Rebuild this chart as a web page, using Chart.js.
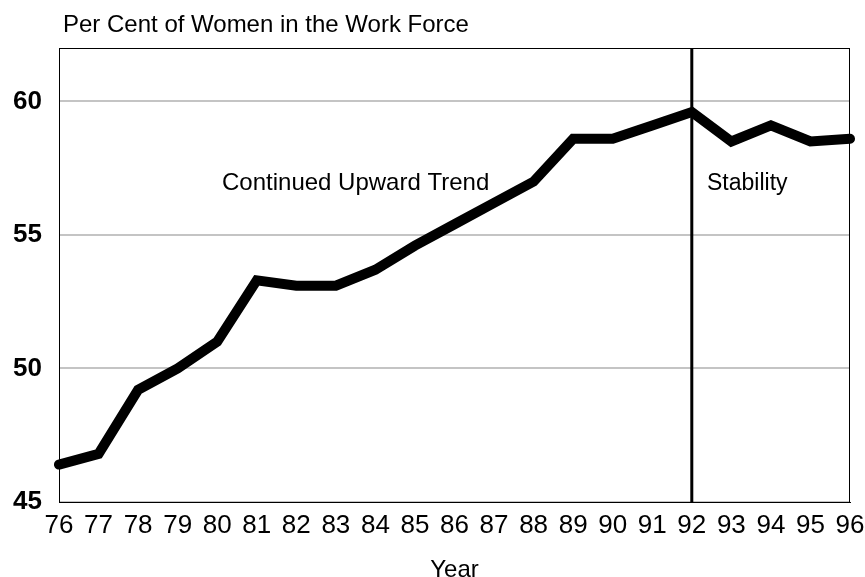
<!DOCTYPE html>
<html>
<head>
<meta charset="utf-8">
<script src="https://cdn.jsdelivr.net/npm/chart.js@4.4.1/dist/chart.umd.min.js"></script>
<style>
  html, body { margin: 0; padding: 0; background: #fff; }
  #wrap { width: 865px; height: 577px; }
</style>
</head>
<body>
<div id="wrap"><canvas id="womenChart"></canvas></div>
<script>
var years = ['76','77','78','79','80','81','82','83','84','85','86','87','88','89','90','91','92','93','94','95','96'];
var womenPct = [46.4, 46.8, 49.2, 50.0, 51.0, 53.3, 53.1, 53.1, 53.7, 54.6, 55.4, 56.2, 57.0, 58.6, 58.6, 59.1, 59.6, 58.5, 59.1, 58.5, 58.6];
var yTicks = [45, 50, 55, 60];
var yMin = 45, yMax = 62;
var splitYear = '92';
var chartTitle = 'Per Cent of Women in the Work Force';
var xTitle = 'Year';
var leftNote = 'Continued Upward Trend';
var rightNote = 'Stability';

var fontFamily = '"Liberation Sans", Arial, Helvetica, sans-serif';

// frame, split line and texts
var extrasPlugin = {
  id: 'extras',
  afterDatasetsDraw: function (chart) {
    var ctx = chart.ctx, area = chart.chartArea;
    var xScale = chart.scales.x;
    ctx.save();
    // box round the plot
    ctx.strokeStyle = '#000';
    ctx.lineWidth = 1;
    ctx.strokeRect(area.left + 0.5, area.top + 0.5, area.right - area.left - 1, area.bottom - area.top);
    // split line
    var sx = xScale.getPixelForValue(years.indexOf(splitYear));
    ctx.lineWidth = 3;
    ctx.beginPath();
    ctx.moveTo(sx, area.top);
    ctx.lineTo(sx, area.bottom);
    ctx.stroke();

    ctx.fillStyle = '#000';
    ctx.textBaseline = 'alphabetic';
    ctx.font = '24px ' + fontFamily;
    ctx.textAlign = 'left';
    ctx.fillText(chartTitle, 63, 32);
    ctx.fillText(leftNote, 222, 190);
    ctx.font = '23px ' + fontFamily;
    ctx.fillText(rightNote, 707, 190);
    ctx.font = '24px ' + fontFamily;
    ctx.textAlign = 'center';
    ctx.fillText(xTitle, (area.left + area.right) / 2, 577);
    ctx.restore();
  }
};

var ctx = document.getElementById('womenChart');
new Chart(ctx, {
  type: 'line',
  data: {
    labels: years,
    datasets: [{
      data: womenPct,
      borderColor: '#000',
      borderWidth: 10,
      borderCapStyle: 'round',
      pointRadius: 0,
      tension: 0,
      fill: false
    }]
  },
  options: {
    responsive: true,
    maintainAspectRatio: false,
    animation: false,
    layout: { padding: { top: 48, right: 15, left: 0, bottom: 0 } },
    plugins: {
      legend: { display: false },
      tooltip: { enabled: false }
    },
    scales: {
      x: {
        offset: false,
        grid: { display: false, drawTicks: false },
        border: { display: true, color: '#000', width: 1 },
        ticks: {
          color: '#000',
          padding: 8,
          maxRotation: 0,
          autoSkip: false,
          font: { family: fontFamily, size: 26 }
        },
        afterFit: function (s) {
          s.height = 75;
          s.paddingLeft = 0;
          s.paddingRight = 0;
        }
      },
      y: {
        min: yMin,
        max: yMax,
        afterBuildTicks: function (s) {
          s.ticks = yTicks.map(function (v) { return { value: v }; });
        },
        grid: { color: '#c4c4c4', lineWidth: 2, drawTicks: false },
        border: { display: true, color: '#000', width: 1 },
        ticks: {
          color: '#000',
          padding: 17,
          font: { family: fontFamily, size: 26, weight: 'bold' }
        },
        afterFit: function (s) { s.width = 59; }
      }
    }
  },
  plugins: [extrasPlugin]
});
</script>
</body>
</html>
